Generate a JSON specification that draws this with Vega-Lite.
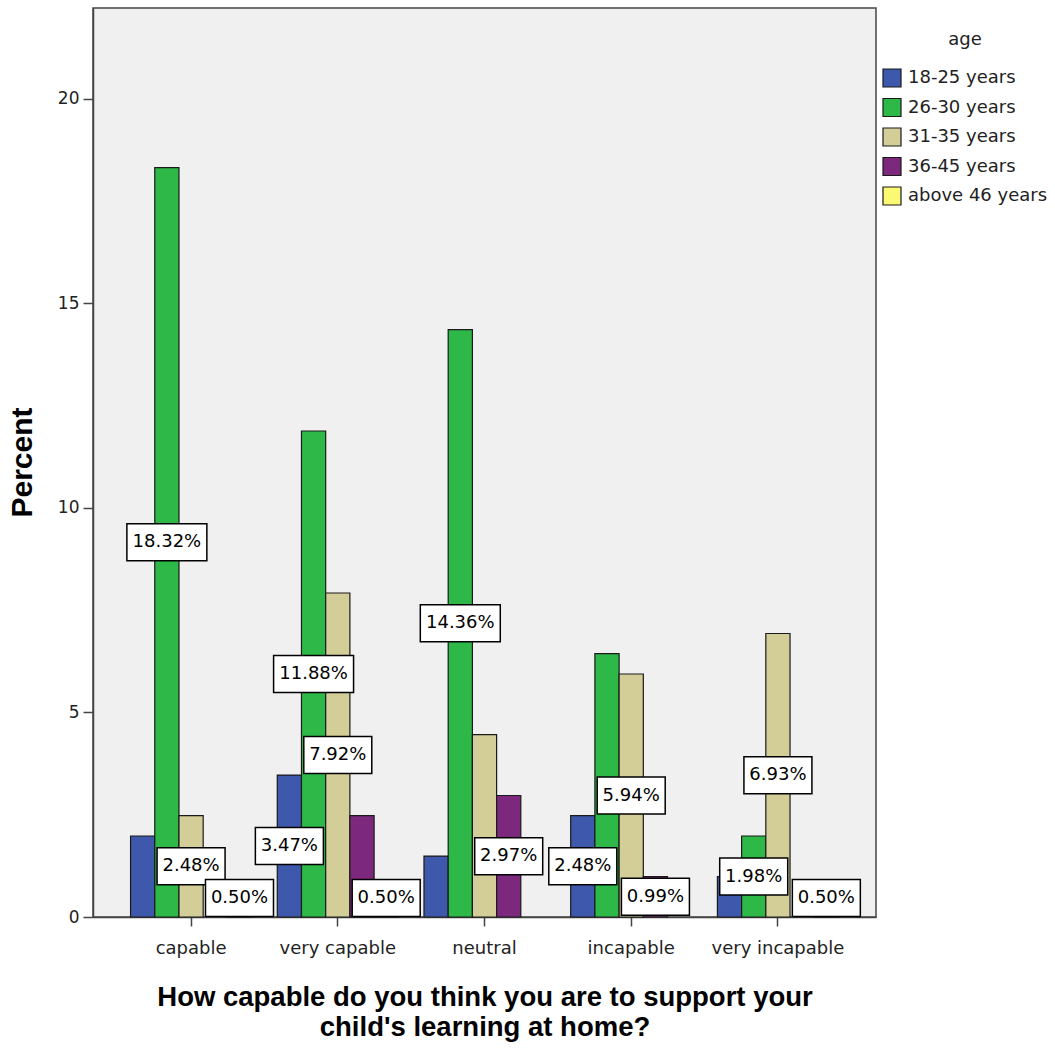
{
  "$schema": "https://vega.github.io/schema/vega-lite/v6.json",
  "width": 783,
  "height": 909,
  "autosize": {"type": "none"},
  "padding": {"left": 93, "top": 8, "right": 179, "bottom": 131},
  "background": "white",
  "data": {
    "values": [
      {"cap": "capable", "age": "18-25 years", "share": 0.0198},
      {"cap": "capable", "age": "26-30 years", "share": 0.1832},
      {"cap": "capable", "age": "31-35 years", "share": 0.0248},
      {"cap": "capable", "age": "36-45 years", "share": 0},
      {"cap": "capable", "age": "above 46 years", "share": 0.0050},
      {"cap": "very capable", "age": "18-25 years", "share": 0.0347},
      {"cap": "very capable", "age": "26-30 years", "share": 0.1188},
      {"cap": "very capable", "age": "31-35 years", "share": 0.0792},
      {"cap": "very capable", "age": "36-45 years", "share": 0.0248},
      {"cap": "very capable", "age": "above 46 years", "share": 0.0050},
      {"cap": "neutral", "age": "18-25 years", "share": 0.0149},
      {"cap": "neutral", "age": "26-30 years", "share": 0.1436},
      {"cap": "neutral", "age": "31-35 years", "share": 0.0446},
      {"cap": "neutral", "age": "36-45 years", "share": 0.0297},
      {"cap": "neutral", "age": "above 46 years", "share": 0},
      {"cap": "incapable", "age": "18-25 years", "share": 0.0248},
      {"cap": "incapable", "age": "26-30 years", "share": 0.0644},
      {"cap": "incapable", "age": "31-35 years", "share": 0.0594},
      {"cap": "incapable", "age": "36-45 years", "share": 0.0099},
      {"cap": "incapable", "age": "above 46 years", "share": 0},
      {"cap": "very incapable", "age": "18-25 years", "share": 0.0099},
      {"cap": "very incapable", "age": "26-30 years", "share": 0.0198},
      {"cap": "very incapable", "age": "31-35 years", "share": 0.0693},
      {"cap": "very incapable", "age": "36-45 years", "share": 0},
      {"cap": "very incapable", "age": "above 46 years", "share": 0.0050}
    ]
  },
  "encoding": {
    "x": {
      "field": "cap",
      "type": "nominal",
      "sort": ["capable", "very capable", "neutral", "incapable", "very incapable"],
      "scale": {"paddingInner": 0.175, "paddingOuter": 0.256},
      "title": ["How capable do you think you are to support your", "child's learning at home?"],
      "axis": {
        "labelAngle": 0,
        "labelFontSize": 18,
        "labelPadding": 13,
        "tickSize": 9,
        "titleFontSize": 27.5,
        "titleLineHeight": 30,
        "titlePadding": 26
      }
    },
    "xOffset": {
      "field": "age",
      "type": "nominal",
      "scale": {
        "domain": ["18-25 years", "26-30 years", "31-35 years", "36-45 years", "above 46 years"],
        "paddingInner": 0,
        "paddingOuter": 0
      }
    }
  },
  "layer": [
    {
      "transform": [{"filter": "datum.share > 0"}],
      "mark": {"type": "bar", "stroke": "#1a1a1a", "strokeWidth": 1.2},
      "encoding": {
        "y": {
          "field": "share",
          "type": "quantitative",
          "scale": {"domain": [0, 0.2222], "nice": false},
          "title": "Percent",
          "axis": {
            "values": [0, 0.05, 0.1, 0.15, 0.2],
            "labelExpr": "round(datum.value * 100)",
            "labelFontSize": 17,
            "labelPadding": 4,
            "tickSize": 10,
            "grid": false,
            "titleFontSize": 30,
            "titleX": -71,
            "titleY": 454,
            "titleAlign": "center",
            "titleBaseline": "middle"
          }
        },
        "fill": {
          "field": "age",
          "type": "nominal",
          "scale": {
            "domain": ["18-25 years", "26-30 years", "31-35 years", "36-45 years", "above 46 years"],
            "range": ["#3e58ac", "#2eb848", "#d3ce97", "#7c287d", "#fbf873"]
          },
          "legend": {
            "orient": "none",
            "legendX": 789,
            "legendY": 23,
            "title": "age",
            "titleAnchor": "middle",
            "titleFont": "DejaVu Sans",
            "titleFontWeight": "normal",
            "titleFontSize": 18,
            "titleColor": "#222",
            "titlePadding": 19,
            "labelFont": "DejaVu Sans",
            "labelFontSize": 18,
            "labelColor": "#222",
            "labelOffset": 6,
            "symbolType": "square",
            "symbolSize": 324,
            "symbolStrokeColor": "#1a1a1a",
            "symbolStrokeWidth": 1.2,
            "symbolOpacity": 1,
            "rowPadding": 5.5,
            "padding": 0
          }
        }
      }
    },
    {
      "transform": [{"filter": "datum.share > 0 && indexof(['capable|18-25 years','very capable|36-45 years','neutral|18-25 years','neutral|31-35 years','incapable|26-30 years','very incapable|18-25 years'], datum.cap + '|' + datum.age) < 0"}],
      "mark": {"type": "point", "filled": true, "fill": "white", "stroke": "black", "strokeWidth": 1.5, "size": 4624, "opacity": 1},
      "encoding": {
        "y": {
          "field": "share",
          "type": "quantitative",
          "scale": {"domain": [0.00929, 0.4445], "range": [890, 0], "clamp": true, "nice": false, "zero": false},
          "axis": null
        },
        "shape": {
          "condition": {"test": "datum.share >= 0.1", "value": "M-1.176,-0.544H1.176V0.544H-1.176Z"},
          "value": "M-1,-0.544H1V0.544H-1Z"
        }
      }
    },
    {
      "transform": [{"filter": "datum.share > 0 && indexof(['capable|18-25 years','very capable|36-45 years','neutral|18-25 years','neutral|31-35 years','incapable|26-30 years','very incapable|18-25 years'], datum.cap + '|' + datum.age) < 0"}],
      "mark": {"type": "text", "font": "DejaVu Sans", "fontSize": 18, "color": "black", "baseline": "middle", "align": "center"},
      "encoding": {
        "y": {
          "field": "share",
          "type": "quantitative",
          "scale": {"domain": [0.00929, 0.4445], "range": [890, 0], "clamp": true, "nice": false, "zero": false},
          "axis": null
        },
        "text": {"field": "share", "type": "quantitative", "format": ".2%"}
      }
    }
  ],
  "resolve": {"scale": {"y": "independent"}},
  "config": {
    "view": {"fill": "#f0f0f0", "stroke": "#444", "strokeWidth": 1.5},
    "axis": {
      "labelFont": "DejaVu Sans",
      "labelColor": "#222",
      "titleFont": "Liberation Sans",
      "titleFontWeight": "bold",
      "titleColor": "black",
      "domainColor": "#444",
      "domainWidth": 1.5,
      "tickColor": "#444",
      "tickWidth": 1.5
    }
  }
}
